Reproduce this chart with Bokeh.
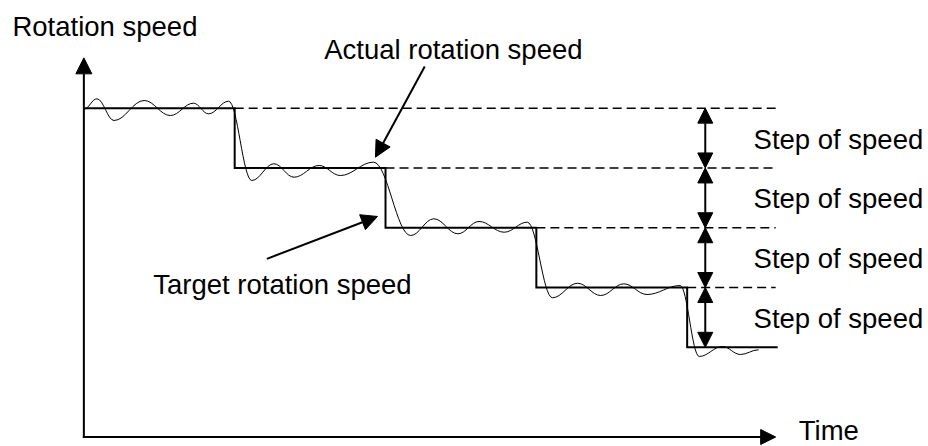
from bokeh.plotting import figure
from bokeh.models import Range1d, Arrow, NormalHead
from bokeh.core.properties import value
from bokeh.embed import file_html
from bokeh.resources import INLINE

# ---- data (time in ms-like units, speed in rpm-like units) ----
step_times = [0, 150, 300, 450, 600]
target_levels = [3300, 2700, 2100, 1500, 900]
t_end = 690          # end of target line
dash_end = 688       # end of dashed reference lines
axis_time_end = 688  # tip of the time axis
axis_speed_end = 3805  # tip of the speed axis

# extrema of the actual (oscillating) rotation speed
actual_t = [0, 13, 30, 60, 86, 109, 124, 144,
            167, 189, 209, 234, 255, 288,
            325, 348, 372, 393, 418, 441,
            466, 491, 514, 537, 560, 593,
            612, 635, 653, 671]
actual_s = [3290, 3394, 3176, 3377, 3226, 3350, 3243, 3370,
            2574, 2742, 2607, 2725, 2624, 2758,
            2022, 2190, 2039, 2163, 2055, 2156,
            1397, 1543, 1420, 1537, 1430, 1520,
            808, 908, 828, 875]

step_arrow_t = 618
step_label_t = 666
step_label = "Step of speed"

labels_text = ["Rotation speed", "Actual rotation speed", "Target rotation speed", "Time"]
labels_t = [-71, 239, 69, 711]
labels_s = [4029, 3795, 1440, -28]

actual_arrow = dict(t0=339, s0=3718, t1=290, s1=2808)
target_arrow = dict(t0=182, s0=1788, t1=292, s1=2213)

FONT = value("Liberation Sans")
FSIZE = "27.5px"

p = figure(width=928, height=446, x_range=Range1d(-82.9, 840), y_range=Range1d(-95.3, 4380.3),
           output_backend="svg", toolbar_location=None, min_border=0,
           x_axis_location=None, y_axis_location=None)
p.grid.visible = False
p.outline_line_color = None
p.background_fill_color = "white"
p.border_fill_color = "white"

# dashed reference lines continuing each level
p.segment(x0=step_times[1:], y0=target_levels[:-1],
          x1=[dash_end] * (len(target_levels) - 1), y1=target_levels[:-1],
          line_color="black", line_width=1.5, line_dash="9 5")

# actual speed curve: smooth bezier segments between extrema (horizontal tangents)
k = 0.38
x0, y0, x1, y1, cx0, cy0, cx1, cy1 = [], [], [], [], [], [], [], []
for i in range(len(actual_t) - 1):
    a, b = actual_t[i], actual_t[i + 1]
    d = b - a
    x0.append(a); y0.append(actual_s[i]); x1.append(b); y1.append(actual_s[i + 1])
    cx0.append(a + k * d); cy0.append(actual_s[i])
    cx1.append(b - k * d); cy1.append(actual_s[i + 1])
p.bezier(x0=x0, y0=y0, x1=x1, y1=y1, cx0=cx0, cy0=cy0, cx1=cx1, cy1=cy1,
         line_color="black", line_width=1)

# target speed staircase
p.step(x=step_times + [t_end], y=target_levels + [target_levels[-1]], mode="after",
       line_color="black", line_width=2, line_join="miter")

def head(size):
    return NormalHead(size=size, fill_color="black", line_color="black", line_width=1)

# axes with arrow heads
p.add_layout(Arrow(end=head(15), x_start=-1, y_start=0, x_end=axis_time_end, y_end=0,
                   line_color="black", line_width=2))
p.add_layout(Arrow(end=head(16), x_start=0, y_start=-10, x_end=0, y_end=axis_speed_end,
                   line_color="black", line_width=2))

# step-of-speed double arrows
for i in range(len(target_levels) - 1):
    p.add_layout(Arrow(start=head(15), end=head(15),
                       x_start=step_arrow_t, y_start=target_levels[i],
                       x_end=step_arrow_t, y_end=target_levels[i + 1],
                       line_color="black", line_width=2))

# annotation arrows
for a in (actual_arrow, target_arrow):
    p.add_layout(Arrow(end=head(16), x_start=a["t0"], y_start=a["s0"],
                       x_end=a["t1"], y_end=a["s1"], line_color="black", line_width=2))

# step labels centred between levels
mids = [(target_levels[i] + target_levels[i + 1]) / 2 for i in range(len(target_levels) - 1)]
p.text(x=[step_label_t] * len(mids), y=mids, text=[step_label] * len(mids),
       text_font=FONT, text_font_size=FSIZE, text_color="black",
       text_align="left", text_baseline="alphabetic", y_offset=1)

# other labels
p.text(x=labels_t, y=labels_s, text=labels_text,
       text_font=FONT, text_font_size=FSIZE, text_color="black",
       text_align="left", text_baseline="alphabetic", y_offset=-9)

open("out.html", "w").write(file_html(p, INLINE))
